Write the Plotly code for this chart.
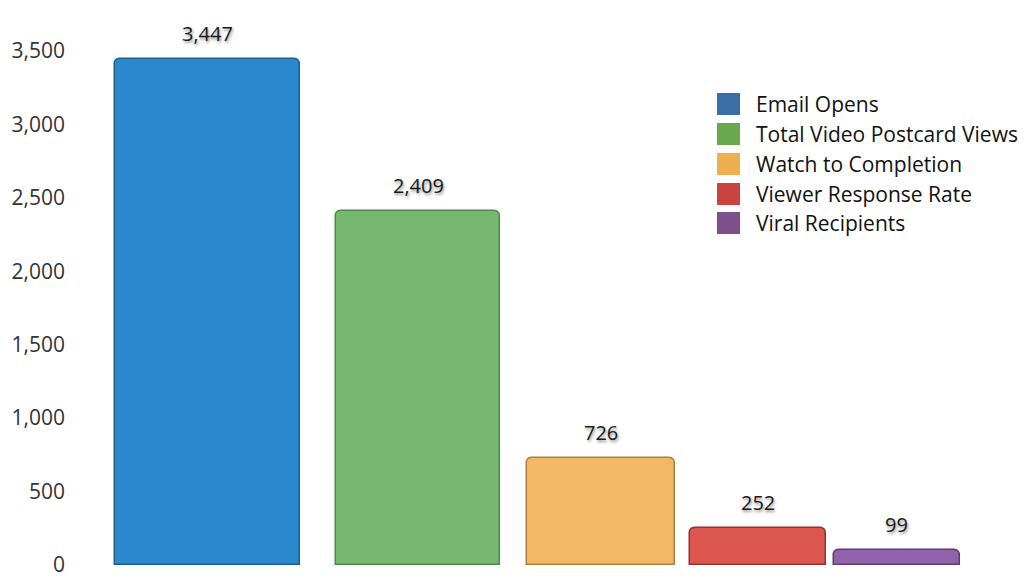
import plotly.graph_objects as go

# ---- data ----
categories = ["Email Opens", "Total Video Postcard Views", "Watch to Completion",
              "Viewer Response Rate", "Viral Recipients"]
values = [3447, 2409, 726, 252, 99]
value_labels = ["3,447", "2,409", "726", "252", "99"]
y_ticks = [0, 500, 1000, 1500, 2000, 2500, 3000, 3500]
y_tick_labels = ["0", "500", "1,000", "1,500", "2,000", "2,500", "3,000", "3,500"]

# ---- style / layout ----
bar_colors = ["#2a88cc", "#76b870", "#f3b865", "#dd5751", "#9362ad"]
bar_edge = ["#1d5f8f", "#4f8a4c", "#a8803f", "#8e3431", "#5f3c73"]
legend_colors = ["#3c6ea6", "#6aa84f", "#efae4f", "#c9433f", "#7e4f8c"]
bar_pos = [0.0, 1.0, 1.867, 2.611, 3.27]
bar_width = [0.877, 0.773, 0.701, 0.645, 0.597]

W, H = 1024, 580
ML, MR, MT, MB = 80, 0, 51, 15
FONT = "Open Sans, DejaVu Sans, sans-serif"

fig = go.Figure()
fig.add_trace(go.Bar(
    x=bar_pos, y=values, width=bar_width,
    marker=dict(color=bar_colors, line=dict(color=bar_edge, width=1.5),
                cornerradius=6),
    showlegend=False, hoverinfo="skip",
))

annotations = []
for xp, v, lab in zip(bar_pos, values, value_labels):
    annotations.append(dict(x=xp, y=v, xref="x", yref="y", text=lab,
                            showarrow=False, yanchor="bottom", yshift=10,
                            font=dict(family=FONT, size=20, color="#1a1a1a",
                                      shadow="1px 2px 3px rgba(0,0,0,0.45)")))

# manual legend (legend swatch colours differ from bar colours)
def px2x(px):
    return (px - ML) / (W - ML - MR)

def py2y(py):
    return (H - MB - py) / (H - MT - MB)

shapes = []
row_y = [104, 134, 164, 194, 223]
for name, col, ry in zip(categories, legend_colors, row_y):
    shapes.append(dict(type="rect", xref="paper", yref="paper",
                       x0=px2x(717), x1=px2x(740),
                       y0=py2y(ry + 11), y1=py2y(ry - 11),
                       fillcolor=col, line=dict(width=0)))
    annotations.append(dict(xref="paper", yref="paper", x=px2x(754), y=py2y(ry),
                            text=name, showarrow=False, xanchor="left",
                            yanchor="middle",
                            font=dict(family=FONT, size=21, color="#111111")))

fig.update_layout(
    width=W, height=H,
    margin=dict(l=ML, r=MR, t=MT, b=MB),
    plot_bgcolor="white", paper_bgcolor="white",
    xaxis=dict(range=[-0.602, 3.872], visible=False),
    yaxis=dict(range=[0, 3500], tickvals=y_ticks, ticktext=y_tick_labels,
               showgrid=False, zeroline=False, showline=False,
               ticks="", ticklabelstandoff=14,
               tickfont=dict(family=FONT, size=21, color="#333333")),
    shapes=shapes, annotations=annotations,
    bargap=0,
)

fig.write_html("out.html")
